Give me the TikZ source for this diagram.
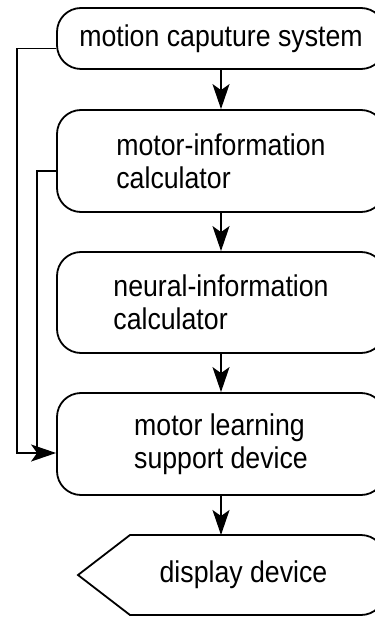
\documentclass[tikz,border=0pt]{standalone}
\usepackage{fontspec}
\setmainfont{Liberation Sans}[FakeStretch=0.89]
\usetikzlibrary{arrows.meta,positioning}

\begin{document}
\begin{tikzpicture}[
    x=1pt, y=-1pt,
    line width=1.8pt,
    txt/.style={font=\fontsize{30}{33}\selectfont, align=left},
    box/.style={txt, draw, rounded corners=24pt, minimum width=328pt},
    flow/.style={-{Stealth[length=25pt,width=17pt,inset=6pt]}},
]
\useasboundingbox (0,0) rectangle (374,617);

\node[box, minimum height=61pt] (mcs) at (221,38.5) {motion caputure system};
\node[box, minimum height=102pt] (mic) at (221,161) {motor-information\\calculator};
\node[box, minimum height=101pt] (nic) at (221,302.5) {neural-information\\calculator};
\node[box, minimum height=102pt] (mls) at (221,444) {motor learning\\support device};

% display device
\draw (250,535) [rounded corners=24pt] -- (385,535) -- (385,615) -- (250,615)
    [sharp corners] -- (130,615) -- (78,575) -- (130,535) -- cycle;
\node[txt] (disp) at (243.5,575) {display device};
\coordinate (disptop) at (221,535);

\draw[flow] (mcs) -- (mic);
\draw[flow] (mic) -- (nic);
\draw[flow] (nic) -- (mls);
\draw[flow] (mls) -- (disptop);

% feedback lines on the left
\draw[flow] ([yshift=-10pt]mcs.west) -| (17,453) -- ([yshift=-9pt]mls.west);
\draw ([yshift=-10pt]mic.west) -| (37,453);
\end{tikzpicture}
\end{document}
